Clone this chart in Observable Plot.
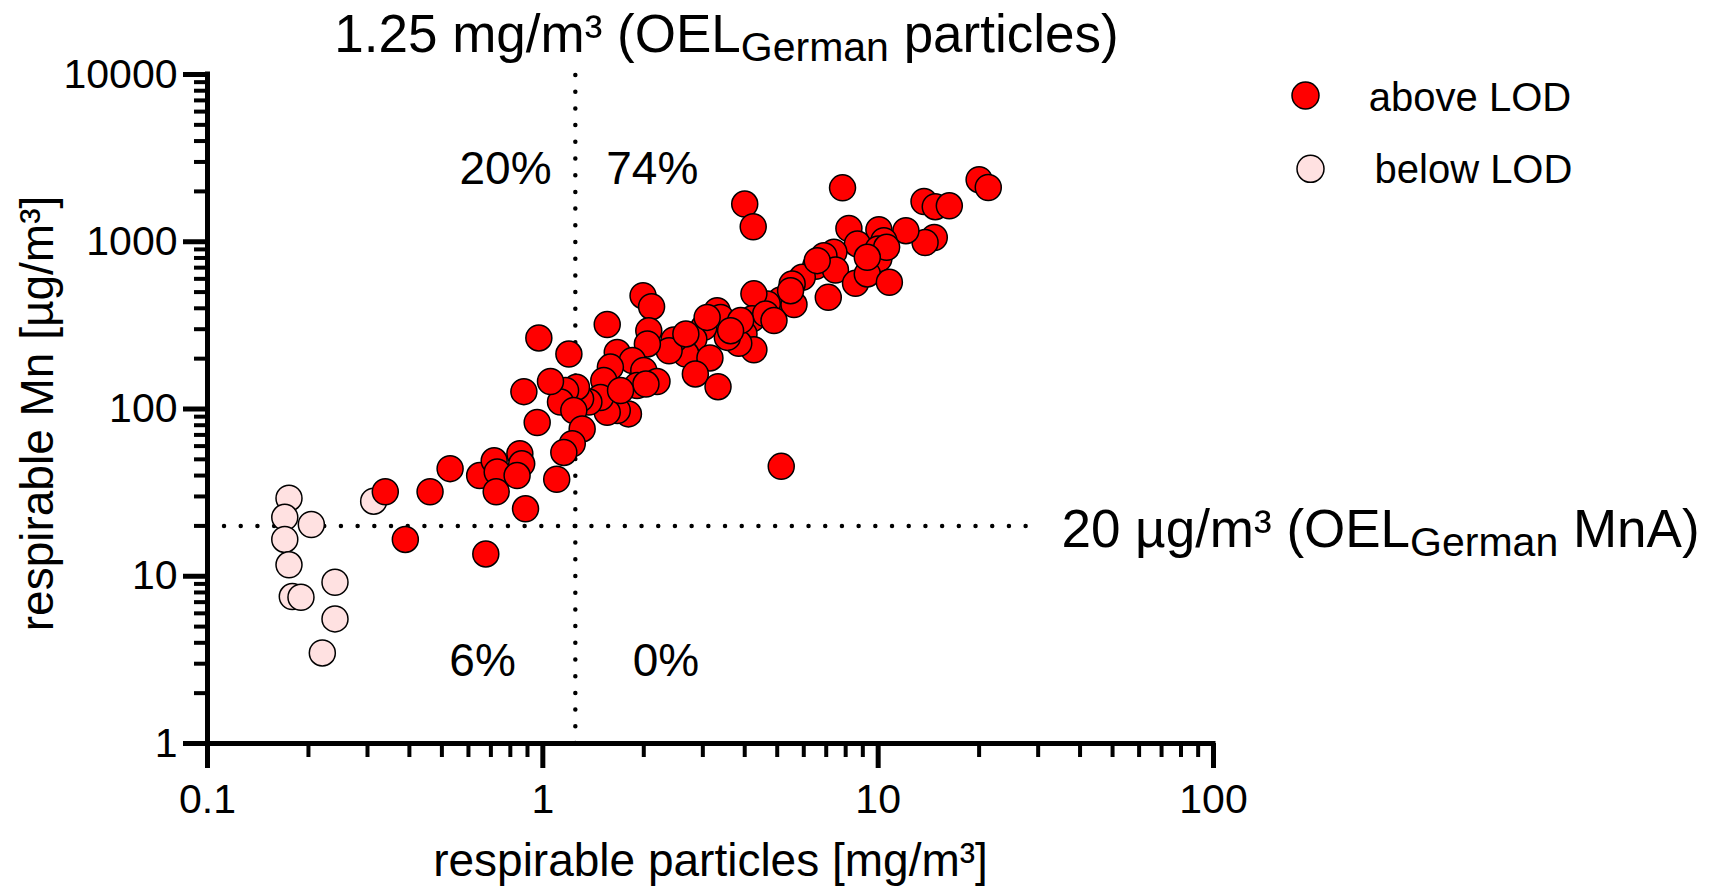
<!DOCTYPE html>
<html>
<head>
<meta charset="utf-8">
<script src="https://cdn.jsdelivr.net/npm/d3@7"></script>
<script src="https://cdn.jsdelivr.net/npm/@observablehq/plot@0.6"></script>
<style>
  html, body { margin: 0; padding: 0; background: #fff; }
</style>
</head>
<body>
<div id="chart"></div>
<script>
// ---- data: respirable particles [mg/m³] (x) vs respirable Mn [µg/m³] (y)
const aboveX = [4.0, 4.24, 7.83, 20.0, 21.3, 13.7, 14.8, 16.3, 14.7, 13.8, 12.1, 8.18, 10.05, 10.4, 8.67, 10.0, 10.05, 7.38, 6.89, 6.51,
  7.46, 8.56, 9.28, 10.8, 7.1, 5.94, 5.54, 5.12, 5.61, 4.67, 4.26, 4.21, 4.62, 4.89, 3.98, 4.26, 3.84, 3.55, 3.31, 3.39,
  3.02, 2.82, 2.67, 3.15, 2.85, 3.33, 2.46, 2.38, 1.99, 2.11, 2.07, 2.05, 1.556, 1.667, 1.85, 2.0, 2.19, 1.91, 2.03, 1.59,
  1.52, 1.8, 1.667, 1.556, 1.486, 1.705, 1.372, 1.296, 1.26, 1.169, 1.129, 1.237, 1.31, 1.224, 1.155, 1.196, 0.973, 1.054, 0.878, 0.962,
  1.1, 5.14, 2.67, 3.09, 10.6, 9.28, 6.58, 5.48, 3.89, 3.63,
  0.529, 0.648, 0.716, 0.731, 0.726, 0.854, 0.865, 0.838, 0.888, 0.676, 0.339, 0.461, 0.389];
const aboveY = [1680, 1230, 2100, 2350, 2110, 1740, 1620, 1640, 1060, 990, 1165, 1200, 1180, 1015, 970, 906, 790, 865, 826, 713,
  678, 564, 642, 572, 465, 613, 559, 449, 421, 425, 488, 346, 370, 338, 281, 226, 247, 268, 387, 353,
  308, 262, 213, 202, 162, 136, 259, 223, 476, 409, 294, 245, 320, 218, 195, 170, 146, 138, 141, 178,
  148, 93.5, 98, 95.6, 117, 129, 110, 115, 135, 129, 110, 98, 76, 62, 55, 213, 266, 146, 127, 83,
  38, 45.4, 281, 353, 926, 807, 771, 510, 338, 294,
  44, 40, 49, 42, 32, 54, 47, 40, 25.3, 13.6, 32, 32, 16.6];
const belowX = [0.175, 0.170, 0.204, 0.170, 0.175, 0.179, 0.190, 0.240, 0.240, 0.220, 0.313];
const belowY = [29.3, 22.5, 20.4, 16.6, 11.7, 7.56, 7.49, 9.21, 5.56, 3.48, 28.1];

// ---- ticks
const xMajor = [0.1, 1, 10, 100];
const xMinor = [0.2, 0.3, 0.4, 0.5, 0.6, 0.7, 0.8, 0.9, 2, 3, 4, 5, 6, 7, 8, 9, 20, 30, 40, 50, 60, 70, 80, 90];
const yMajor = [1, 10, 100, 1000, 10000];
const yMinor = [2, 3, 4, 5, 6, 7, 8, 9, 20, 30, 40, 50, 60, 70, 80, 90, 200, 300, 400, 500, 600, 700, 800, 900,
  2000, 3000, 4000, 5000, 6000, 7000, 8000, 9000];

// ---- reference limits and annotations
const oelParticles = 1.25;
const oelMn = 20;
const quadrantLabels = ["20%", "74%", "6%", "0%"];
const quadrantX = [0.774, 2.12, 0.661, 2.33];
const quadrantY = [2723, 2723, 3.12, 3.12];
const legendLabels = ["above LOD", "below LOD"];
const colors = ["#FF0000", "#FFE1E1"];
const xTitle = "respirable particles [mg/m³]";
const yTitle = "respirable Mn [µg/m³]";
const topLabelParts = ["1.25 mg/m³ (OEL", "German", " particles)"];
const rightLabelParts = ["20 µg/m³ (OEL", "German", " MnA)"];

const above = aboveX.map((x, i) => ({x, y: aboveY[i]}));
const below = belowX.map((x, i) => ({x, y: belowY[i]}));

const font = "'Liberation Sans', Arial, Helvetica, sans-serif";
const dotStyle = {r: 13, stroke: "black", strokeWidth: 1.5};
const dotted = {stroke: "black", strokeWidth: 4.5, strokeDasharray: "0,16.7", strokeLinecap: "round"};

const plot = Plot.plot({
  width: 1711,
  height: 889,
  marginLeft: 207,
  marginRight: 498,
  marginTop: 74,
  marginBottom: 146,
  x: {type: "log", domain: [0.1, 100], axis: null},
  y: {type: "log", domain: [1, 10000], axis: null},
  style: {fontFamily: font, fontSize: "41px", color: "black", background: "white", overflow: "visible"},
  marks: [
    Plot.ruleX([oelParticles], {y1: 1, y2: 10000, ...dotted}),
    Plot.ruleY([oelMn], {x1: 0.1124, x2: 30.5, ...dotted}),
    Plot.dot(below, {x: "x", y: "y", fill: colors[1], ...dotStyle}),
    Plot.dot(above, {x: "x", y: "y", fill: colors[0], ...dotStyle}),
    Plot.ruleX([0.1], {y1: 1, y2: 10000, stroke: "black", strokeWidth: 5, strokeLinecap: "square"}),
    Plot.ruleY([1], {x1: 0.1, x2: 100, stroke: "black", strokeWidth: 5, strokeLinecap: "square"}),
    Plot.axisX({ticks: xMinor, tickSize: 14, strokeWidth: 4, tickFormat: () => "", label: null}),
    Plot.axisX({ticks: xMajor, tickSize: 25, tickPadding: 15, strokeWidth: 5, fontSize: 41, tickFormat: d => String(d), label: null}),
    Plot.axisY({ticks: yMinor, tickSize: 13, strokeWidth: 4, tickFormat: () => "", label: null}),
    Plot.axisY({ticks: yMajor, tickSize: 24, tickPadding: 6, strokeWidth: 5, fontSize: 41, tickFormat: d => String(d), label: null}),
    Plot.text(quadrantLabels, {x: (d, i) => quadrantX[i], y: (d, i) => quadrantY[i], text: d => d, fontSize: 46, textAnchor: "middle", lineAnchor: "middle"}),
    Plot.text([topLabelParts.join("")], {frameAnchor: "top", dx: 16, dy: -39.6, fontSize: 53, textAnchor: "middle", lineAnchor: "middle"}),
    Plot.text([rightLabelParts.join("")], {x: () => 35.2, y: () => oelMn, dy: 4, fontSize: 53, textAnchor: "start", lineAnchor: "middle"}),
    Plot.text([xTitle], {frameAnchor: "bottom", dy: 118, fontSize: 46, textAnchor: "middle", lineAnchor: "middle"}),
    Plot.text([yTitle], {frameAnchor: "left", dx: -169, dy: 4.5, rotate: -90, fontSize: 46, textAnchor: "middle", lineAnchor: "middle"}),
    // legend
    Plot.dot([legendLabels[0]], {frameAnchor: "top-right", dx: 92, dy: 21, fill: colors[0], ...dotStyle, r: 13.5}),
    Plot.dot([legendLabels[1]], {frameAnchor: "top-right", dx: 97, dy: 94.3, fill: colors[1], ...dotStyle, r: 13.5}),
    Plot.text([legendLabels[0]], {frameAnchor: "top-right", dx: 155.3, dy: 23.2, fontSize: 40, textAnchor: "start", lineAnchor: "middle"}),
    Plot.text([legendLabels[1]], {frameAnchor: "top-right", dx: 161, dy: 96, fontSize: 40, textAnchor: "start", lineAnchor: "middle"})
  ]
});

document.getElementById("chart").appendChild(plot);

// subscripts for the OEL labels
function subscriptify(parts, subSize, shift) {
  const full = parts.join("");
  d3.select(plot).selectAll("text")
    .filter(function () { return this.textContent === full; })
    .each(function () {
      const t = d3.select(this);
      t.text(null);
      t.append("tspan").text(parts[0]);
      t.append("tspan").attr("font-size", subSize).attr("dy", shift).text(parts[1]);
      t.append("tspan").attr("dy", -shift).text(parts[2]);
    });
}
subscriptify(topLabelParts, 41, 9);
subscriptify(rightLabelParts, 41, 9);
</script>
</body>
</html>
